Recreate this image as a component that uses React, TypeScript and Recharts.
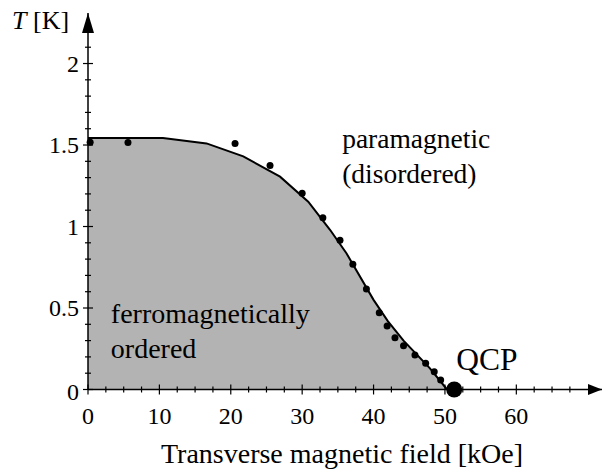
import React from "react"
import { ComposedChart, Area, Scatter, XAxis, YAxis } from "recharts"

// phase boundary (fit) and measured points, field in kOe, T in K
const boundaryH = [0, 10.5, 16.6, 21.75, 26.9, 30.85, 33.9, 36.2, 40, 42, 44.2, 47.9, 50.3]
const boundaryT = [1.543, 1.543, 1.51, 1.43, 1.306, 1.152, 0.98, 0.836, 0.55, 0.42, 0.3, 0.13, 0]

const pointH = [0.3, 5.6, 20.6, 25.5, 30.0, 32.9, 35.3, 37.1, 39.0, 40.8, 41.9, 43.0, 44.2, 45.8, 47.3, 48.5, 49.4]
const pointT = [1.517, 1.515, 1.509, 1.375, 1.204, 1.054, 0.915, 0.768, 0.617, 0.471, 0.39, 0.318, 0.269, 0.212, 0.161, 0.109, 0.058]

const qcpH = [51.3]
const qcpT = [0]

const xTicks = [0, 2.5, 5, 7.5, 10, 12.5, 15, 17.5, 20, 22.5, 25, 27.5, 30, 32.5, 35, 37.5, 40, 42.5, 45, 47.5, 50, 52.5, 55, 57.5, 60, 62.5, 65, 67.5]
const yTicks = [0, 0.1, 0.2, 0.3, 0.4, 0.5, 0.6, 0.7, 0.8, 0.9, 1, 1.1, 1.2, 1.3, 1.4, 1.5, 1.6, 1.7, 1.8, 1.9, 2, 2.1]

const notes = [
  { h: 35.6, T: 1.48, size: 27.5, lines: ["paramagnetic", "(disordered)"] },
  { h: 3.2, T: 0.405, size: 28, lines: ["ferromagnetically", "ordered"] },
  { h: 51.6, T: 0.12, size: 31.5, lines: ["QCP"] },
]

const boundary = boundaryH.map((h, i) => ({ h, T: boundaryT[i] }))
const points = pointH.map((h, i) => ({ h, T: pointT[i] }))
const qcp = qcpH.map((h, i) => ({ h, T: qcpT[i] }))

const FONT = "Liberation Serif"

const XTick = ({ x, y, payload }: any) => {
  const major = payload.value % 10 === 0
  const d = major ? 5 : 3
  return (
    <g>
      <line x1={x} x2={x} y1={y - d} y2={y + d} stroke="#000" strokeWidth={1.2} />
      {major && (
        <text x={x} y={y + 34} textAnchor="middle" fontFamily={FONT} fontSize={24} fill="#000">
          {payload.value}
        </text>
      )}
    </g>
  )
}

const YTick = ({ x, y, payload }: any) => {
  const v = payload.value
  const major = Math.abs(v * 2 - Math.round(v * 2)) < 1e-6
  const d = major ? 5 : 3
  return (
    <g>
      <line x1={x - d} x2={x + d} y1={y} y2={y} stroke="#000" strokeWidth={1.2} />
      {major && (
        <text x={x - 9} y={y + (v === 0 ? 10 : 8)} textAnchor="end" fontFamily={FONT} fontSize={24} fill="#000">
          {v}
        </text>
      )}
    </g>
  )
}

const Dot = ({ cx, cy }: any) => <circle cx={cx} cy={cy} r={3.5} fill="#000" />
const BigDot = ({ cx, cy }: any) => <circle cx={cx} cy={cy} r={8} fill="#000" />

const ArrowRight = ({ cx, cy }: any) => (
  <path d={`M${cx},${cy} L${cx - 14},${cy - 5.5} L${cx - 14},${cy + 5.5} Z`} fill="#000" />
)
const ArrowUp = ({ cx, cy }: any) => (
  <path d={`M${cx},${cy} L${cx - 6},${cy + 20} L${cx + 6},${cy + 20} Z`} fill="#000" />
)

const Note = ({ cx, cy, payload }: any) => (
  <text x={cx} y={cy} fontFamily={FONT} fontSize={payload.size} fill="#000">
    {payload.lines.map((s: string, i: number) => (
      <tspan key={i} x={cx} dy={i === 0 ? 0 : 35}>
        {s}
      </tspan>
    ))}
  </text>
)

const YTitle = () => (
  <text x={12} y={29} fontFamily={FONT} fontSize={26} fill="#000">
    <tspan fontStyle="italic">T</tspan>
    <tspan> [K]</tspan>
  </text>
)

export default function App() {
  return (
    <div style={{ position: "absolute", left: 0, top: 0, width: 605, height: 472, background: "#fff" }}>
      <ComposedChart width={605} height={472} margin={{ top: 13, right: 3, bottom: 0, left: 0 }}>
        <XAxis
          dataKey="h"
          type="number"
          domain={[0, 72]}
          ticks={xTicks}
          interval={0}
          tickSize={0}
          tickMargin={0}
          tick={<XTick />}
          axisLine={{ stroke: "#000", strokeWidth: 1.5 }}
          height={82.5}
          label={{
            value: "Transverse magnetic field [kOe]",
            position: "insideBottom",
            offset: 9,
            dx: -3,
            style: { fontFamily: FONT, fontSize: 28, fill: "#000" },
          }}
        />
        <YAxis
          dataKey="T"
          type="number"
          domain={[0, 2.31]}
          ticks={yTicks}
          interval={0}
          tickSize={0}
          tickMargin={0}
          tick={<YTick />}
          axisLine={{ stroke: "#000", strokeWidth: 1.5 }}
          width={88}
          label={<YTitle />}
        />
        <Area
          data={boundary}
          dataKey="T"
          type="linear"
          fill="#b3b3b3"
          fillOpacity={1}
          stroke="#000"
          strokeWidth={2}
          isAnimationActive={false}
          dot={false}
          activeDot={false}
        />
        <Scatter data={points} dataKey="T" shape={<Dot />} isAnimationActive={false} />
        <Scatter data={qcp} dataKey="T" shape={<BigDot />} isAnimationActive={false} />
        <Scatter data={[{ h: 72, T: 0 }]} dataKey="T" shape={<ArrowRight />} isAnimationActive={false} />
        <Scatter data={[{ h: 0, T: 2.31 }]} dataKey="T" shape={<ArrowUp />} isAnimationActive={false} />
        <Scatter data={notes} dataKey="T" shape={<Note />} isAnimationActive={false} />
      </ComposedChart>
    </div>
  )
}
